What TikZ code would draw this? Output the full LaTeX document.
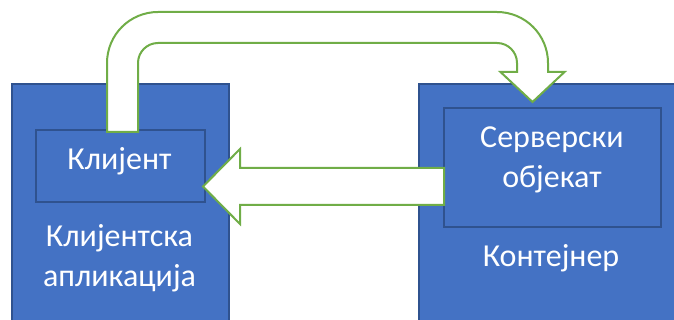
\documentclass[tikz,border=0pt]{standalone}
\usepackage{fontspec}
\setmainfont{Carlito}
\definecolor{boxblue}{HTML}{4472C4}
\definecolor{boxedge}{HTML}{2F528F}
\definecolor{arrgreen}{HTML}{70AD47}
\begin{document}
\begin{tikzpicture}[x=1pt,y=-1pt,
  box/.style={draw=boxedge, fill=boxblue, line width=2pt, inner sep=0pt, anchor=north west},
  blockarrow/.style={draw=arrgreen, fill=white, line width=2pt, line join=miter},
  lbl/.style={text=white, font=\fontsize{32}{39}\selectfont, anchor=base, inner sep=0pt}]
\useasboundingbox (0,0) rectangle (674,320);
\clip (0,0) rectangle (674,320);
% outer containers
\node[box, minimum width=217pt, minimum height=257pt] (app) at (11,83) {};
\node[box, minimum width=272pt, minimum height=257pt] (cont) at (418,83) {};
% inner boxes
\node[box, minimum width=169pt, minimum height=72pt] (client) at (35,129) {};
\node[box, minimum width=217pt, minimum height=119pt] (server) at (443,107) {};
% labels
\node[lbl] (tclient) at (119.5,170) {Клијент};
\node[lbl] (tapp1) at (119.5,247) {Клијентска};
\node[lbl] (tapp2) at (119.5,286) {апликација};
\node[lbl] (tsrv1) at (552,148) {Серверски};
\node[lbl] (tsrv2) at (552,188) {објекат};
\node[lbl] (tcont) at (551,266) {Контејнер};
% U-turn block arrow (client -> server object)
\draw[blockarrow] (107,132) -- (107,63)
  .. controls (107,34.8) and (129.8,12) .. (158,12)
  -- (497,12)
  .. controls (525.2,12) and (548,34.8) .. (548,63)
  -- (548,72) -- (564.5,72) -- (532.5,102) -- (500.5,72) -- (517,72) -- (517,63)
  .. controls (517,51.95) and (508.05,43) .. (497,43)
  -- (158,43)
  .. controls (146.95,43) and (138,51.95) .. (138,63)
  -- (138,132) -- cycle;
% return block arrow (server object -> client)
\draw[blockarrow] (444,168) -- (240,168) -- (240,149) -- (203,186.5)
  -- (240,224) -- (240,205) -- (444,205) -- cycle;
\end{tikzpicture}
\end{document}
